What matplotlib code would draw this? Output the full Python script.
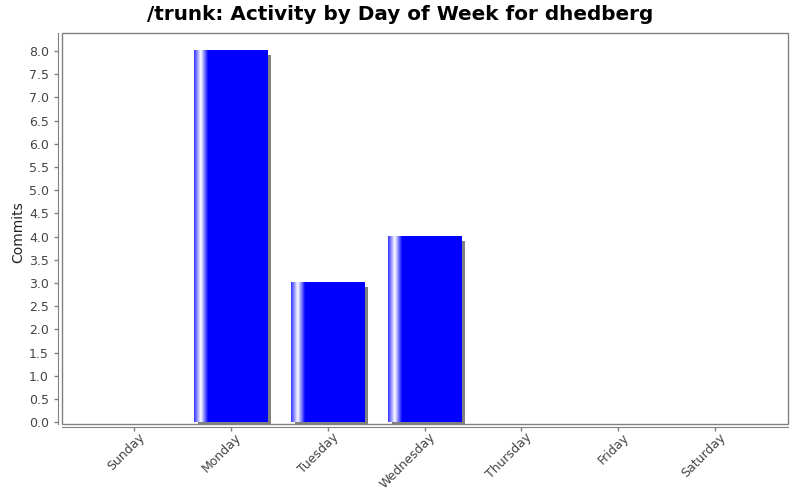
import numpy as np
import matplotlib
matplotlib.use("Agg")
import matplotlib.pyplot as plt
from matplotlib.patches import Rectangle
from matplotlib.transforms import offset_copy, ScaledTranslation

days = ["Sunday", "Monday", "Tuesday", "Wednesday", "Thursday", "Friday", "Saturday"]
commits = [0, 8, 3, 4, 0, 0, 0]
yticks = [0.0, 0.5, 1.0, 1.5, 2.0, 2.5, 3.0, 3.5, 4.0, 4.5, 5.0, 5.5, 6.0, 6.5, 7.0, 7.5, 8.0]

fig = plt.figure(figsize=(8, 5), dpi=100)
ax = fig.add_axes([62/800, 1-424/500, 726/800, 391/500])

bar_w = 0.754
x = np.arange(len(days))

# gradient image (horizontal)
n = 200
t = np.linspace(0, 1, n)
blue = np.array([0.0, 0.0, 1.0])
light = np.array([1.0, 1.0, 1.0])
edge = np.array([0.2, 0.2, 1.0])
cols = np.zeros((n, 3))
for i, tt in enumerate(t):
    if tt < 0.09:
        f = tt / 0.09
        cols[i] = edge * (1 - f) + light * f
    elif tt < 0.19:
        f = (tt - 0.09) / 0.10
        cols[i] = light * (1 - f) + blue * f
    else:
        cols[i] = blue
grad = cols[np.newaxis, :, :]

shadow_tr = offset_copy(ax.transData, fig=fig, x=4, y=-4, units='dots')
for xi, v in zip(x, commits):
    if v <= 0:
        continue
    x0 = xi - bar_w / 2
    ax.add_patch(Rectangle((x0, 0), bar_w, v, facecolor='#808080', edgecolor='none',
                           transform=shadow_tr, zorder=1))
    ax.imshow(grad, extent=[x0, x0 + bar_w, 0, v], aspect='auto', zorder=2,
              interpolation='bilinear')

ax.set_xlim(-0.744, 6.754)
ax.set_ylim(-0.04, 8.39)

for s in ['top', 'right']:
    ax.spines[s].set_visible(False)
ax.spines['left'].set_position(('outward', 3))
ax.spines['bottom'].set_position(('outward', 2.2))
ax.spines['left'].set_color('#808080')
ax.spines['bottom'].set_color('#808080')
ax.add_patch(Rectangle((0, 0), 1, 1, transform=ax.transAxes, fill=False,
                       edgecolor='#808080', linewidth=1.0, clip_on=False, zorder=5))

ax.set_yticks(yticks)
ax.set_yticklabels([f"{v:.1f}" for v in yticks])
ax.set_xticks(x)
ax.set_xticklabels(days, rotation=45, ha='right', rotation_mode='anchor')
ax.tick_params(axis='both', colors='#808080', labelcolor='#444444', labelsize=9,
               length=3, width=1)
ax.tick_params(axis='x', pad=1)
shift = ScaledTranslation(4/100, 2/100, fig.dpi_scale_trans)
for lbl in ax.get_xticklabels():
    lbl.set_transform(lbl.get_transform() + shift)

ax.set_ylabel("Commits", fontsize=10, color='#222222')
ax.yaxis.set_label_coords(-0.051, 0.49)
fig.text(0.5, 1 - 14/500, "/trunk: Activity by Day of Week for dhedberg",
         ha='center', va='center', fontsize=14.4, fontweight='bold')

fig.savefig("out.png", dpi=100)
